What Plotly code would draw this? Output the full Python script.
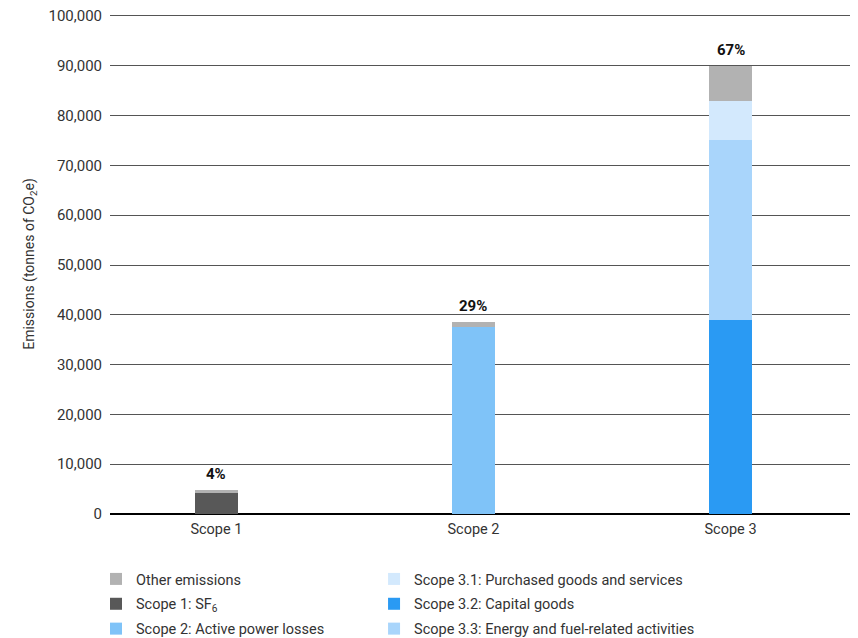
import plotly.graph_objects as go

categories = ["Scope 1", "Scope 2", "Scope 3"]

# series values (tonnes CO2e)
sf6 = [4200, 0, 0]
active_losses = [0, 37500, 0]
capital_goods = [0, 0, 39000]
energy_fuel = [0, 0, 36100]
purchased = [0, 0, 7800]
other = [600, 1100, 7100]

share_labels = ["4%", "29%", "67%"]
y_ticks = [0, 10000, 20000, 30000, 40000, 50000, 60000, 70000, 80000, 90000, 100000]

FONT = "Roboto"
TXT = "#333333"

# (name, values, colour, legend, rank)
series = [
    ("Scope 1: SF<sub>6</sub>", sf6, "#585858", "legend", 2),
    ("Scope 2: Active power losses", active_losses, "#7fc3f8", "legend", 3),
    ("Scope 3.2: Capital goods", capital_goods, "#2a9af3", "legend2", 2),
    ("Scope 3.3: Energy and fuel-related activities", energy_fuel, "#a9d5fb", "legend2", 3),
    ("Scope 3.1: Purchased goods and services", purchased, "#d3e9fd", "legend2", 1),
    ("Other emissions", other, "#b2b2b2", "legend", 1),
]

fig = go.Figure()
for i, (name, vals, color, leg, rank) in enumerate(series):
    fig.add_trace(go.Bar(
        x=categories, y=vals, name=name,
        marker=dict(color=color, line=dict(width=0)),
        width=0.167, legend=leg, legendrank=rank, legendgroup="g%d" % i,
        hoverinfo="skip",
    ))

totals = [sum(v) for v in zip(sf6, active_losses, capital_goods, energy_fuel, purchased, other)]
for cat, tot, lab in zip(categories, totals, share_labels):
    fig.add_annotation(x=cat, y=tot, text="<b>" + lab + "</b>", showarrow=False,
                       yanchor="bottom", yshift=5,
                       font=dict(family=FONT, size=15, color="#111111"))

legend_common = dict(orientation="v", yanchor="top", xanchor="left",
                     traceorder="grouped", tracegroupgap=3, itemclick=False,
                     font=dict(family=FONT, size=14.5, color=TXT),
                     bgcolor="rgba(0,0,0,0)", borderwidth=0)

fig.update_layout(
    width=858, height=638,
    margin=dict(l=102, r=8, t=6, b=132, autoexpand=False),
    barmode="stack",
    plot_bgcolor="white", paper_bgcolor="white",
    font=dict(family=FONT, size=14, color=TXT),
    showlegend=True,
    legend=dict(x=-0.0187, y=-0.098, **legend_common),
    legend2=dict(x=0.353, y=-0.098, **legend_common),
    xaxis=dict(type="category", range=[-0.414, 2.496], showgrid=False,
               showline=False, ticks="", tickfont=dict(family=FONT, size=14.5, color=TXT),
               ticklabelstandoff=4),
    yaxis=dict(range=[0, 100400], tickvals=y_ticks, tickformat=",d",
               showgrid=True, gridcolor="#555555", gridwidth=1,
               zeroline=True, zerolinecolor="#000000", zerolinewidth=1.5,
               showline=False, ticks="", ticklabelstandoff=7, ticklabeloverflow="allow",
               tickfont=dict(family=FONT, size=15, color=TXT),
               title=dict(text="Emissions (tonnes of CO<sub>2</sub>e)", standoff=10,
                          font=dict(family=FONT, size=14, color=TXT))),
)

fig.write_html("out.html")
